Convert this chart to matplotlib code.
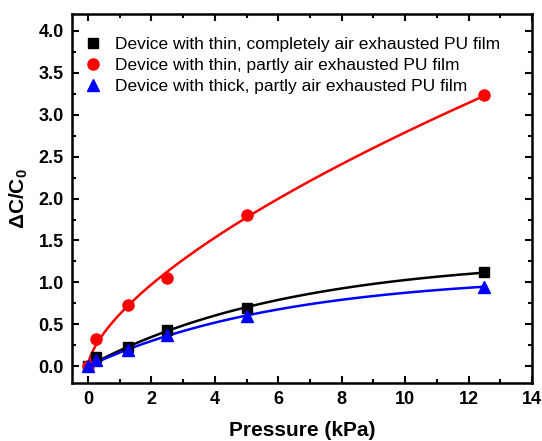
import matplotlib
matplotlib.use('Agg')
import matplotlib.pyplot as plt
from matplotlib.ticker import MultipleLocator, FormatStrFormatter
import numpy as np

plt.rcParams['font.family'] = ['Liberation Sans', 'DejaVu Sans']
plt.rcParams['mathtext.fontset'] = 'custom'
plt.rcParams['mathtext.rm'] = 'Liberation Sans'
plt.rcParams['mathtext.bf'] = 'Liberation Sans:bold'

# data
pressure = [0, 0.25, 1.25, 2.5, 5, 12.5]
thin_full = [0, 0.11, 0.23, 0.43, 0.69, 1.12]
thin_partly = [0, 0.33, 0.73, 1.05, 1.80, 3.23]
thick_partly = [0, 0.07, 0.19, 0.37, 0.60, 0.95]

labels = ['Device with thin, completely air exhausted PU film',
          'Device with thin, partly air exhausted PU film',
          'Device with thick, partly air exhausted PU film']


def fit_saturation(x, y):
    """Least squares fit of y = A(1 - exp(-x/t)), grid search over t."""
    x = np.asarray(x, float)
    y = np.asarray(y, float)
    best = None
    for t in np.linspace(0.5, 30, 600):
        g = 1 - np.exp(-x / t)
        a = np.dot(g, y) / np.dot(g, g)
        err = np.sum((a * g - y) ** 2)
        if best is None or err < best[0]:
            best = (err, a, t)
    _, a, t = best
    return lambda xx: a * (1 - np.exp(-xx / t))


def fit_power(x, y):
    """Least squares fit of y = a * x^b, grid search over b."""
    x = np.asarray(x, float)
    y = np.asarray(y, float)
    best = None
    for b in np.linspace(0.2, 1.2, 500):
        g = x ** b
        a = np.dot(g, y) / np.dot(g, g)
        err = np.sum((a * g - y) ** 2)
        if best is None or err < best[0]:
            best = (err, a, b)
    _, a, b = best
    return lambda xx: a * xx ** b


fig = plt.figure(figsize=(5.42, 4.41), dpi=100)
ax = fig.add_axes([0.133, 0.1315, 0.8485, 0.8365])

xs = np.linspace(0, pressure[-1], 300)
xs_red = np.linspace(0.005, pressure[-1], 300)

ax.plot(xs, fit_saturation(pressure, thin_full)(xs), color='black', lw=1.8)
ax.plot(xs_red, fit_power(pressure, thin_partly)(xs_red), color='red', lw=1.8)
ax.plot(xs, fit_saturation(pressure, thick_partly)(xs), color='blue', lw=1.8)

ax.plot(pressure, thin_full, 's', color='black', ms=7, ls='none', label=labels[0])
ax.plot(pressure, thin_partly, 'o', color='red', ms=8, ls='none', label=labels[1])
ax.plot(pressure, thick_partly, '^', color='blue', ms=8, ls='none', label=labels[2])

ax.set_xlim(-0.5, 14)
ax.set_ylim(-0.2, 4.2)
ax.xaxis.set_major_locator(MultipleLocator(2))
ax.xaxis.set_minor_locator(MultipleLocator(1))
ax.yaxis.set_major_locator(MultipleLocator(0.5))
ax.yaxis.set_minor_locator(MultipleLocator(0.25))
ax.yaxis.set_major_formatter(FormatStrFormatter('%.1f'))

ax.tick_params(which='both', direction='in', top=True, right=True, width=1.5)
ax.tick_params(which='major', length=5, labelsize=13, pad=6)
ax.tick_params(which='minor', length=3)
for lbl in ax.get_xticklabels() + ax.get_yticklabels():
    lbl.set_fontweight('bold')
for sp in ax.spines.values():
    sp.set_linewidth(1.8)

ax.set_xlabel('Pressure (kPa)', fontsize=15, fontweight='bold', labelpad=9)
ax.set_ylabel(r'ΔC/C$_\mathbf{0}$', fontsize=15, fontweight='bold', labelpad=6)

ax.legend(loc='upper left', bbox_to_anchor=(-0.013, 0.975), frameon=False,
          fontsize=12.5, handletextpad=0.5, borderaxespad=0.3,
          labelspacing=0.33, borderpad=0.5, handlelength=1.5)

fig.savefig('out.png', dpi=100)
